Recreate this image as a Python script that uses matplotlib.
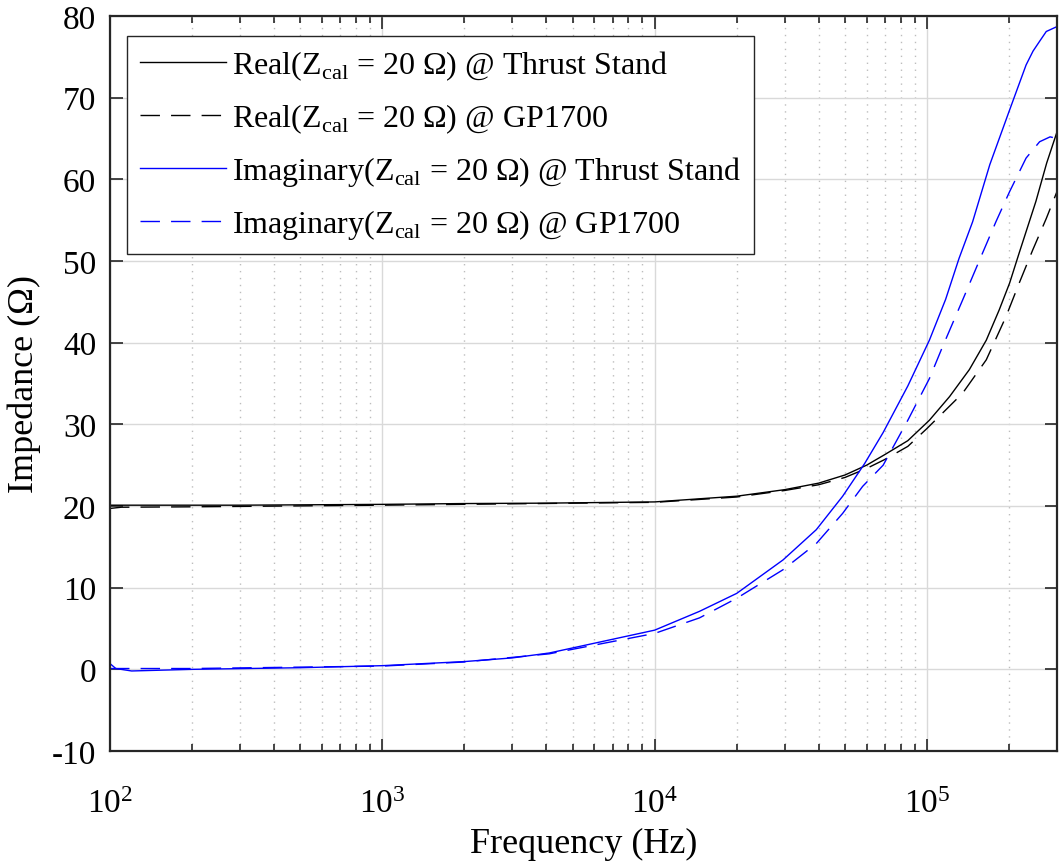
import matplotlib
matplotlib.use('agg')
import matplotlib.pyplot as plt
from matplotlib.ticker import LogLocator, NullFormatter, MultipleLocator

plt.rcParams['font.family'] = ['Liberation Serif', 'DejaVu Serif']
plt.rcParams['mathtext.fontset'] = 'custom'
plt.rcParams['mathtext.rm'] = 'Liberation Serif'
plt.rcParams['axes.unicode_minus'] = False

# Real part, thrust stand (solid black)
freq_real_ts = [100, 150, 300, 1e3, 2e3, 4e3, 1e4, 2e4, 3e4, 4e4, 5e4, 6e4, 7e4,
                8.5e4, 1.02e5, 1.21e5, 1.43e5, 1.65e5, 1.84e5, 2.01e5, 2.18e5,
                2.51e5, 2.75e5, 3e5]
real_ts = [20.1, 20.1, 20.1, 20.2, 20.3, 20.35, 20.5, 21.2, 22.0, 22.8, 23.8, 25.0,
           26.3, 28.0, 30.5, 33.4, 36.7, 40.3, 44.0, 47.3, 51.0, 57.3, 62.0, 65.8]

# Real part, GP1700 (dashed black)
freq_real_gp = [100, 110, 200, 1e3, 1e4, 2e4, 3e4, 4e4, 5e4, 6e4, 7e4, 8.5e4,
                1.0e5, 1.35e5, 1.65e5, 1.95e5, 2.18e5, 2.44e5, 2.74e5, 3e5]
real_gp = [19.7, 19.85, 19.9, 20.1, 20.45, 21.1, 21.9, 22.6, 23.5, 24.6, 25.7, 27.3,
           29.5, 33.8, 37.9, 43.2, 47.3, 51.3, 55.2, 58.5]

# Imaginary part, thrust stand (solid blue)
freq_imag_ts = [100, 105, 120, 200, 500, 1e3, 2e3, 3e3, 4.1e3, 1e4, 1.46e4, 2e4,
                2.96e4, 3.92e4, 4.9e4, 5.9e4, 6.9e4, 8.5e4, 1.02e5, 1.17e5, 1.31e5,
                1.47e5, 1.7e5, 2e5, 2.31e5, 2.45e5, 2.59e5, 2.74e5, 3e5]
imag_ts = [0.7, 0.1, -0.2, 0.0, 0.2, 0.45, 0.95, 1.4, 2.0, 4.8, 7.1, 9.3, 13.4, 17.1,
           21.2, 25.2, 29.0, 34.7, 40.3, 45.3, 50.3, 54.8, 61.8, 68.3, 74.0, 75.7,
           76.9, 78.1, 78.7]

# Imaginary part, GP1700 (dashed blue)
freq_imag_gp = [100, 200, 1e3, 2e3, 4.1e3, 1e4, 1.46e4, 2e4, 2.96e4, 3.92e4, 4.9e4,
                5.8e4, 6.9e4, 8.5e4, 1.02e5, 1.14e5, 1.35e5, 1.6e5, 1.79e5, 2.01e5,
                2.31e5, 2.59e5, 2.83e5, 3e5]
imag_gp = [0.1, 0.1, 0.4, 0.9, 1.9, 4.4, 6.3, 8.7, 12.2, 15.4, 19.1, 22.4, 25.0, 30.5,
           35.6, 39.5, 45.2, 51.0, 54.8, 58.5, 62.6, 64.6, 65.2, 65.0]

labels = [r'Real(Z$_{\mathdefault{cal}}$ = 20 Ω) @ Thrust Stand',
          r'Real(Z$_{\mathdefault{cal}}$ = 20 Ω) @ GP1700',
          r'Imaginary(Z$_{\mathdefault{cal}}$ = 20 Ω) @ Thrust Stand',
          r'Imaginary(Z$_{\mathdefault{cal}}$ = 20 Ω) @ GP1700']

fig = plt.figure(figsize=(10.59, 8.62), dpi=100)
ax = fig.add_axes([0.1039, 0.1276, 0.8942, 0.8527])

dash = (14, 8)
ax.plot(freq_real_ts, real_ts, color='black', lw=1.0, label=labels[0])
ax.plot(freq_real_gp, real_gp, color='black', lw=1.0, dashes=dash, label=labels[1])
ax.plot(freq_imag_ts, imag_ts, color=(0, 0, 1), lw=1.0, label=labels[2])
ax.plot(freq_imag_gp, imag_gp, color=(0, 0, 1), lw=1.0, dashes=dash, label=labels[3])

ax.set_xscale('log')
ax.set_xlim(100, 3e5)
ax.set_ylim(-10, 80)
ax.yaxis.set_major_locator(MultipleLocator(10))
ax.xaxis.set_major_locator(LogLocator(base=10, numticks=10))
ax.xaxis.set_minor_locator(LogLocator(base=10, subs=range(2, 10), numticks=20))
ax.xaxis.set_minor_formatter(NullFormatter())

ax.grid(True, which='major', color='#d9d9d9', lw=1.0, ls='-')
ax.grid(True, which='minor', axis='x', color='#bdbdbd', lw=1.0, ls=(0, (1, 4)))
ax.set_axisbelow(True)

ax.tick_params(which='both', direction='in', top=True, right=True, width=1.2,
               colors='#262626', labelcolor='black')
ax.tick_params(which='major', length=9)
ax.tick_params(which='minor', length=5)
ax.tick_params(axis='x', labelsize=24, pad=27)
ax.tick_params(axis='y', labelsize=24, pad=10)
for sp in ax.spines.values():
    sp.set_linewidth(1.6)
    sp.set_color('#262626')

ax.set_xlabel('Frequency (Hz)', fontsize=26, labelpad=6)
ax.set_ylabel('Impedance (Ω)', fontsize=26, labelpad=8)

leg = ax.legend(loc='upper left', bbox_to_anchor=(0.018, 0.973), fontsize=23,
                frameon=True, fancybox=False, framealpha=1, edgecolor='#262626',
                handlelength=2.7, handletextpad=0.2, labelspacing=0.6,
                borderpad=0.4, borderaxespad=0)
leg.get_frame().set_linewidth(1.0)

fig.savefig('out.png', dpi=100)
